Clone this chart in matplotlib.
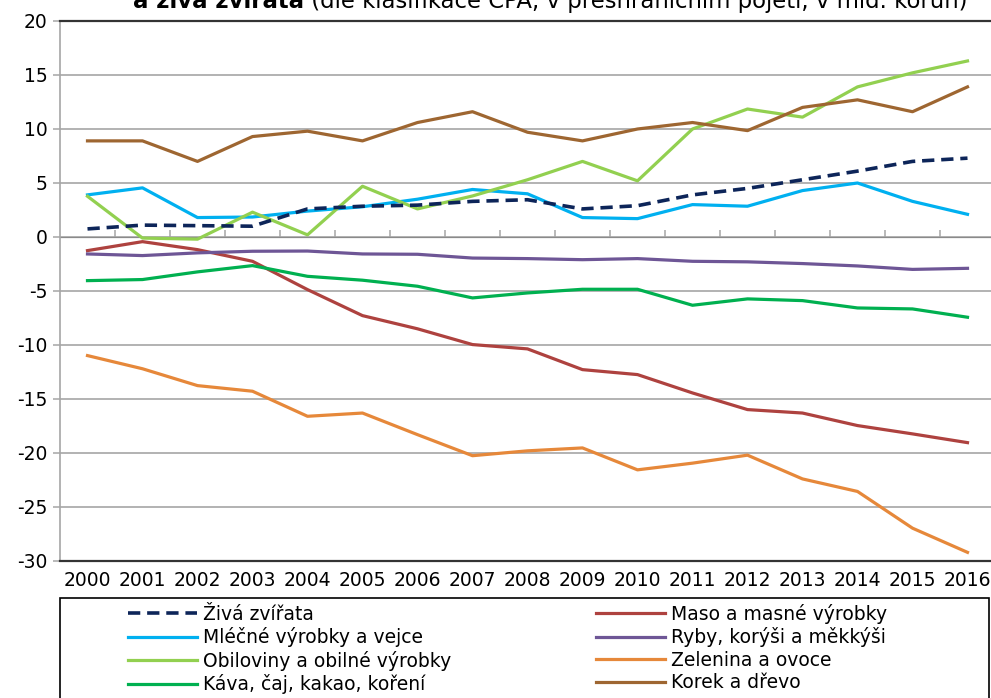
#%%
# Importing libraries

import matplotlib.pyplot as plt
from matplotlib.patches import Rectangle

#%%
# Data

years = ['2000', '2001', '2002', '2003', '2004', '2005', '2006', '2007', '2008',
         '2009', '2010', '2011', '2012', '2013', '2014', '2015', '2016']

ziva = [0.75, 1.1, 1.05, 1.0, 2.6, 2.85, 2.95, 3.3, 3.45, 2.6, 2.9, 3.9, 4.5, 5.3, 6.1, 7.0, 7.3]
maso = [-1.26, -0.43, -1.17, -2.25, -4.87, -7.28, -8.5, -9.96, -10.36, -12.28, -12.74,
        -14.44, -15.98, -16.3, -17.46, -18.23, -19.04]
mlecne = [3.9, 4.55, 1.8, 1.85, 2.4, 2.8, 3.5, 4.4, 4.0, 1.8, 1.7, 3.0, 2.85, 4.3, 5.0, 3.3, 2.1]
ryby = [-1.57, -1.72, -1.47, -1.32, -1.3, -1.57, -1.6, -1.95, -2.0, -2.1, -2.0, -2.25,
        -2.3, -2.46, -2.68, -3.0, -2.9]
obiloviny = [3.77, -0.1, -0.2, 2.3, 0.2, 4.7, 2.6, 3.8, 5.3, 7.0, 5.2, 10.0, 11.85, 11.1,
             13.9, 15.2, 16.3]
zelenina = [-10.98, -12.2, -13.76, -14.28, -16.6, -16.3, -18.3, -20.25, -19.8, -19.53,
            -21.56, -20.94, -20.2, -22.4, -23.56, -26.96, -29.2]
kava = [-4.04, -3.94, -3.23, -2.65, -3.64, -4.0, -4.56, -5.64, -5.18, -4.84, -4.84, -6.32,
        -5.73, -5.89, -6.57, -6.66, -7.43]
korek = [8.9, 8.9, 7.0, 9.3, 9.8, 8.9, 10.6, 11.6, 9.7, 8.9, 10.0, 10.6, 9.85, 12.0, 12.7,
         11.6, 13.9]

#%%
# Figure

W, H = 991, 698
fs = 13.5
grid_c = '#A6A6A6'
plt.rcParams['font.family'] = ['DejaVu Sans']
plt.rcParams['axes.unicode_minus'] = False

fig = plt.figure(figsize=(W / 100, H / 100), dpi=100)
ax = fig.add_axes([60 / W, 1 - 561 / H, (W - 60) / W, 540 / H])

x = list(range(len(years)))
lw = 2.3
l_ziva, = ax.plot(x, ziva, color='#0D2559', lw=2.6, linestyle=(0, (3.4, 1.9)), zorder=5)
l_maso, = ax.plot(x, maso, color='#AE423F', lw=lw, zorder=4)
l_mlecne, = ax.plot(x, mlecne, color='#00B0F0', lw=lw, zorder=4)
l_ryby, = ax.plot(x, ryby, color='#6E5696', lw=lw, zorder=4)
l_obil, = ax.plot(x, obiloviny, color='#92D050', lw=lw, zorder=4)
l_zel, = ax.plot(x, zelenina, color='#E6883A', lw=lw, zorder=4)
l_kava, = ax.plot(x, kava, color='#00B050', lw=lw, zorder=4)
l_korek, = ax.plot(x, korek, color='#9E6631', lw=lw, zorder=4)

ax.set_xlim(-0.5, -0.5 + (W - 60) / 55)
ax.set_ylim(-30, 20)
ax.set_yticks(range(-30, 25, 5))
ax.set_xticks(x)
ax.set_xticklabels(years, fontsize=fs)
ax.tick_params(axis='x', length=0, pad=7)
ax.tick_params(axis='y', length=5, width=1.1, color=grid_c, pad=4, labelsize=fs)

ax.set_axisbelow(True)
ax.yaxis.grid(True, color=grid_c, lw=1.2)
ax.spines['right'].set_visible(False)
ax.spines['left'].set_color(grid_c)
ax.spines['left'].set_linewidth(1.2)
for s in ['top', 'bottom']:
    ax.spines[s].set_color('#333333')
    ax.spines[s].set_linewidth(1.6)

# category axis crossing at zero, tick marks between categories
sec = ax.secondary_xaxis(0.6)
sec.set_xticks([k + 0.5 for k in range(len(years) - 1)])
sec.set_xticklabels([])
sec.tick_params(length=5, width=1.1, color=grid_c)
sec.spines['bottom'].set_color(grid_c)
sec.spines['bottom'].set_linewidth(1.2)

#%%
# Title (cut off at the top, as in the source)

tfs = 16.4
t1 = fig.text(133 / W, 1 - 1 / H, 'a živá zvířata', fontsize=tfs, fontweight='bold',
              ha='left', va='center')
ax.annotate(' (dle klasifikace CPA, v přeshraničním pojetí, v mld. korun)',
            xy=(1, 0.5), xycoords=t1, fontsize=tfs, ha='left', va='center',
            annotation_clip=False)

#%%
# Legend

fig.patches.append(Rectangle((60 / W, -0.05), (989 - 60) / W, 0.05 + 1 - 598 / H,
                             transform=fig.transFigure, fill=False,
                             edgecolor='black', lw=1.2))
handles = [l_ziva, l_mlecne, l_obil, l_kava, l_maso, l_ryby, l_zel, l_korek]
labels = ['Živá zvířata', 'Mléčné výrobky a vejce', 'Obiloviny a obilné výrobky',
          'Káva, čaj, kakao, koření', 'Maso a masné výrobky', 'Ryby, korýši a měkkýši',
          'Zelenina a ovoce', 'Korek a dřevo']
fig.legend(handles, labels, ncol=2, loc='upper left', bbox_to_anchor=(128 / W, 1 - 604 / H),
           frameon=False, fontsize=fs, handlelength=3.7, handletextpad=0.3,
           columnspacing=7.7, labelspacing=0.18, borderpad=0, borderaxespad=0)

fig.savefig('out.png', dpi=100)
